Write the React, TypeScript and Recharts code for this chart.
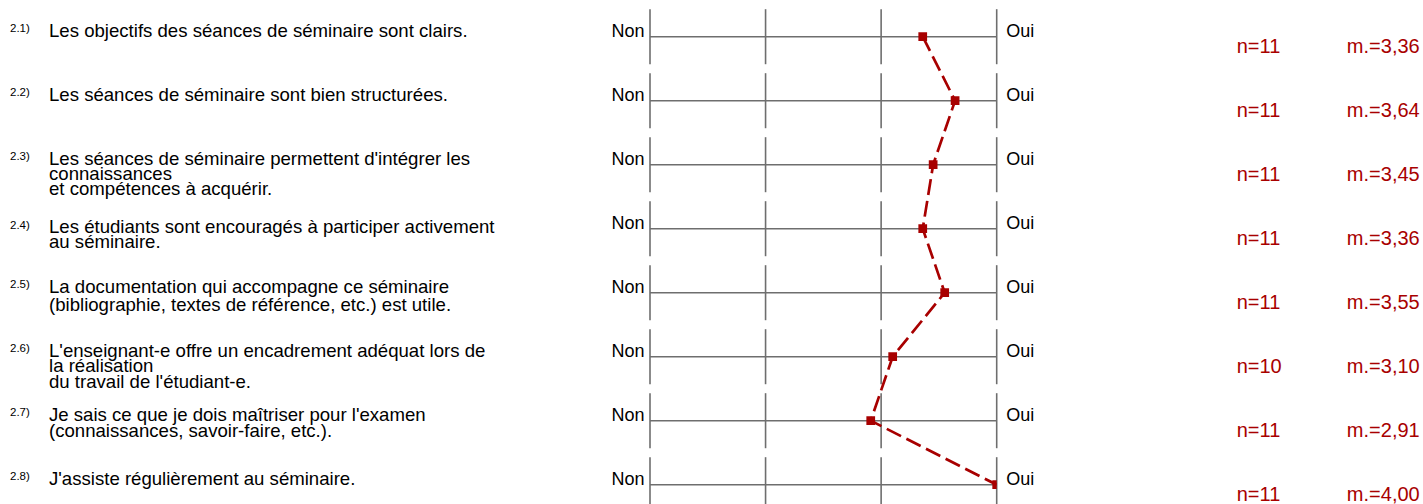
import React from 'react';
import { ComposedChart, Scatter, XAxis, YAxis, ZAxis, ReferenceLine } from 'recharts';

const itemNumbers = ['2.1)', '2.2)', '2.3)', '2.4)', '2.5)', '2.6)', '2.7)', '2.8)'];
const itemLabels: string[][] = [
  ['Les objectifs des séances de séminaire sont clairs.'],
  ['Les séances de séminaire sont bien structurées.'],
  ["Les séances de séminaire permettent d'intégrer les", 'connaissances', 'et compétences à acquérir.'],
  ['Les étudiants sont encouragés à participer activement', 'au séminaire.'],
  ['La documentation qui accompagne ce séminaire', '(bibliographie, textes de référence, etc.) est utile.'],
  ["L'enseignant-e offre un encadrement adéquat lors de", 'la réalisation', "du travail de l'étudiant-e."],
  ["Je sais ce que je dois maîtriser pour l'examen", '(connaissances, savoir-faire, etc.).'],
  ["J'assiste régulièrement au séminaire."],
];
const means = [3.36, 3.64, 3.45, 3.36, 3.55, 3.1, 2.91, 4.0];
const counts = [11, 11, 11, 11, 11, 10, 11, 11];
const scaleTicks = [1, 2, 3, 4];
const leftPole = 'Non';
const rightPole = 'Oui';

const rows = means.map((_, i) => i + 1);
const data = means.map((m, i) => ({ row: i + 1, mean: m }));

// style constants (text layout)
const labelShift = [0, 0, 0, 4.5, 0, 0, 0, 0];
const labelLineGap = [15, 15, 15, 15, 18.5, 15.5, 16.5, 15];

const RED = '#a80000';
const GRAY = '#6e6e6e';
const FONT = '"Liberation Sans", Arial, sans-serif';
const FS = 18;
const LABEL_FS = 18.6;
const STAT_FS = 20;
const HALF = 0.43;

function LeftTick(props: any) {
  const { x, y, payload } = props;
  const i = Number(payload.value) - 1;
  const lines = itemLabels[i] || [];
  const ly = y + (labelShift[i] || 0);
  return (
    <g fontFamily={FONT}>
      <text x={x - 640} y={ly - 4.5} fontSize={11.5} fill="#000">{itemNumbers[i]}</text>
      <text x={x - 601} y={ly} fontSize={LABEL_FS} fill="#000">
        {lines.map((l, k) => (
          <tspan key={k} x={x - 601} dy={k === 0 ? 0 : labelLineGap[i]}>{l}</tspan>
        ))}
      </text>
      <text x={x - 5.5} y={y + 0.5} textAnchor="end" fontSize={FS} fill="#000">{leftPole}</text>
    </g>
  );
}

function RightTick(props: any) {
  const { x, y, payload } = props;
  const i = Number(payload.value) - 1;
  const mean = means[i];
  return (
    <g fontFamily={FONT}>
      <text x={x + 9.6} y={y + 0.5} fontSize={FS} fill="#000">{rightPole}</text>
      <text x={x + 240} y={y + 16.5} fontSize={STAT_FS} fill={RED}>{'n=' + counts[i]}</text>
      <text x={x + 423} y={y + 16.5} textAnchor="end" fontSize={STAT_FS} fill={RED}>
        {'m.=' + mean.toFixed(2).replace('.', ',')}
      </text>
    </g>
  );
}

export default function App() {
  return (
    <div style={{ position: 'absolute', left: 0, top: 0, width: 1423, height: 504, background: '#fff', fontFamily: FONT }}>
      <ComposedChart width={1423} height={504} data={data} margin={{ top: 0, right: 0, bottom: 0, left: 0 }}>
        <XAxis type="number" dataKey="mean" domain={[1, 4]} hide allowDataOverflow />
        <YAxis
          yAxisId="left"
          orientation="left"
          type="number"
          dataKey="row"
          domain={[0.4266, 8.3016]}
          reversed
          ticks={rows}
          interval={0}
          width={650}
          axisLine={false}
          tickLine={false}
          tickSize={0}
          tickMargin={0}
          tick={<LeftTick />}
          allowDataOverflow
        />
        <YAxis
          yAxisId="right"
          orientation="right"
          type="number"
          dataKey="row"
          domain={[0.4266, 8.3016]}
          reversed
          ticks={rows}
          interval={0}
          width={426.3}
          axisLine={false}
          tickLine={false}
          tickSize={0}
          tickMargin={0}
          tick={<RightTick />}
          allowDataOverflow
        />
        <ZAxis range={[76, 76]} />
        {rows.map((r) => (
          <ReferenceLine
            key={'h' + r}
            yAxisId="left"
            segment={[{ x: scaleTicks[0], y: r }, { x: scaleTicks[scaleTicks.length - 1], y: r }]}
            stroke={GRAY}
            strokeWidth={1.6}
            ifOverflow="visible"
          />
        ))}
        {rows.map((r) =>
          scaleTicks.map((t) => (
            <ReferenceLine
              key={'v' + r + '-' + t}
              yAxisId="left"
              segment={[{ x: t, y: r - HALF }, { x: t, y: r + HALF }]}
              stroke={GRAY}
              strokeWidth={1.6}
              ifOverflow="visible"
            />
          ))
        )}
        <Scatter
          yAxisId="left"
          data={data}
          dataKey="mean"
          fill={RED}
          shape="square"
          line={{ stroke: RED, strokeWidth: 2.7, strokeDasharray: '16 6' }}
          lineType="joint"
          isAnimationActive={false}
        />
      </ComposedChart>
    </div>
  );
}
